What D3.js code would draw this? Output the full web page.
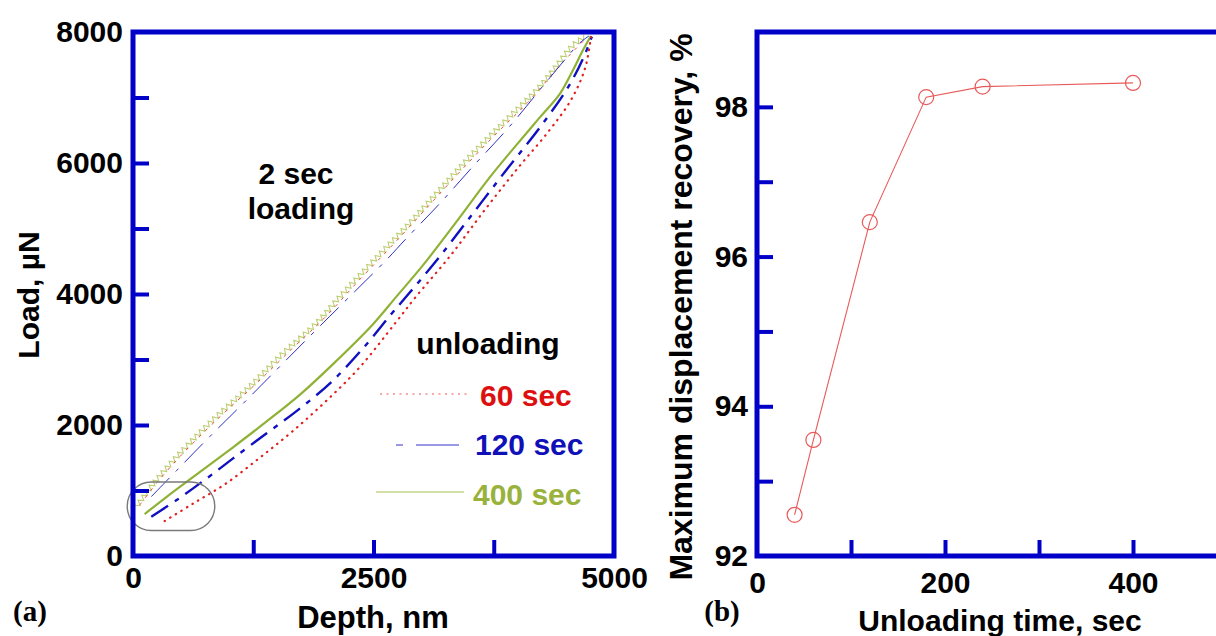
<!DOCTYPE html>
<html><head><meta charset="utf-8">
<script src="https://cdn.jsdelivr.net/npm/d3@7"></script>
<style>
body{margin:0;background:#fff}
svg{display:block}
text{font-family:"Liberation Sans",Arial,Helvetica,sans-serif;font-weight:bold}
</style>
</head><body>
<svg id="c" width="1216" height="636"></svg>
<script>
// ---------- Panel (a) data: load (µN) vs depth (nm) ----------
const load2sDepth = [35, 243, 520, 866, 1213, 1559, 1906, 2150, 2495, 2842, 3188, 3535, 3881, 4228, 4400, 4574, 4720];
const load2sLoad  = [753, 1160, 1619, 2128, 2586, 3095, 3553, 3958, 4500, 5029, 5589, 6149, 6658, 7167, 7480, 7800, 7950];

const load60Depth = [70, 300, 600, 950, 1300, 1650, 2000, 2350, 2700, 3050, 3400, 3750, 4100, 4450, 4720];
const load60Load  = [779, 1210, 1690, 2190, 2660, 3160, 3650, 4210, 4750, 5310, 5870, 6410, 6920, 7510, 7920];

const load120Depth = [190, 450, 797, 1180, 1559, 1950, 2300, 2634, 2842, 3188, 3535, 3916, 4332, 4643, 4740];
const load120Load  = [906, 1300, 1822, 2380, 2942, 3520, 4030, 4520, 4850, 5380, 5950, 6560, 7300, 7830, 7940];

const unl60Depth = [329, 624, 970, 1317, 1663, 2010, 2356, 2734, 2942, 3292, 3639, 3985, 4332, 4560, 4700, 4760];
const unl60Load  = [534, 800, 1110, 1500, 1910, 2370, 2880, 3570, 3960, 4571, 5250, 5894, 6505, 6980, 7450, 7920];

const unl120Depth = [190, 450, 762, 1040, 1386, 1733, 2079, 2426, 2683, 2870, 3188, 3535, 3881, 4228, 4520, 4680, 4770];
const unl120Load  = [600, 850, 1180, 1490, 1870, 2250, 2680, 3230, 3690, 4010, 4571, 5233, 5894, 6540, 7150, 7600, 7930];

const unl400Depth = [121, 347, 693, 1040, 1386, 1733, 2079, 2495, 2738, 3015, 3361, 3708, 4000, 4231, 4439, 4574, 4678, 4760];
const unl400Load  = [641, 900, 1280, 1660, 2050, 2460, 2930, 3540, 3960, 4440, 5100, 5780, 6300, 6700, 7060, 7420, 7725, 7940];

const depthTickMarks = [1250, 2500, 3750];
const depthTickLabels = [0, 2500, 5000];
const loadTickMarks = [1000, 2000, 3000, 4000, 5000, 6000, 7000];
const loadTickLabels = [0, 2000, 4000, 6000, 8000];

const legendNames = ["60 sec", "120 sec", "400 sec"];

// ---------- Panel (b) data ----------
const unloadTime = [40, 60, 120, 180, 240, 400];
const recovery   = [92.55, 93.55, 96.46, 98.13, 98.27, 98.32];
const timeTickMarks = [100, 200, 300, 400];
const timeTickLabels = [0, 200, 400];
const recTickMarks = [93, 94, 95, 96, 97, 98];
const recTickLabels = [92, 94, 96, 98];

// ---------- drawing ----------
const BLUE = "#0000c8";
const RED = "#e02020", RED_L = "#ee4a4a";
const NAVY = "#1010c0";
const GREEN = "#8fb236", ZIG = "#bccf72";
const FS = 30;

const svg = d3.select("#c");
svg.append("rect").attr("width",1216).attr("height",636).attr("fill","#fff");

const xA = d3.scaleLinear().domain([0,5000]).range([133,614]);
const yA = d3.scaleLinear().domain([0,8000]).range([556,32]);
const xB = d3.scaleLinear().domain([0,500]).range([757,1227]);
const yB = d3.scaleLinear().domain([92,99]).range([556,32]);

function styleAxis(g, fs){
  g.select(".domain").remove();
  g.attr("font-family",null).attr("font-size",null);
  g.selectAll(".tick line").attr("stroke",BLUE).attr("stroke-width",4);
  g.selectAll(".tick text").attr("fill","#000").style("font-size",fs+"px");
}

// ---- Panel (a) ----
const gA = svg.append("g");
const lineA = (xs, ys) => d3.line().x((d,i)=>xA(xs[i])).y((d,i)=>yA(ys[i])).curve(d3.curveCatmullRom.alpha(0.5))(xs);

// zigzag loading trace
const hidden = gA.append("path").attr("d", lineA(load2sDepth, load2sLoad)).attr("fill","none").attr("stroke","none");
(function(){
  const node = hidden.node(), L = node.getTotalLength(), step = 3.1, amp = 2.5;
  const pts = []; let i = 0, last = [1,0];
  for (let s = 0; s <= L; s += step, i++) {
    const p = node.getPointAtLength(s), q = node.getPointAtLength(Math.min(L, s + 0.8));
    let dx = q.x - p.x, dy = q.y - p.y, n = Math.hypot(dx, dy);
    if (n > 1e-6) last = [dx/n, dy/n];
    const o = (i % 2 ? amp : -amp);
    pts.push([p.x - last[1]*o, p.y + last[0]*o]);
  }
  gA.append("path").attr("d", d3.line()(pts)).attr("fill","none").attr("stroke",ZIG).attr("stroke-width",1.1);
})();

gA.append("path").attr("d", lineA(load60Depth, load60Load)).attr("fill","none")
  .attr("stroke",RED_L).attr("stroke-width",1).attr("stroke-dasharray","3,6");
gA.append("path").attr("d", lineA(load120Depth, load120Load)).attr("fill","none")
  .attr("stroke","#3030c8").attr("stroke-width",1).attr("stroke-dasharray","26,9,4,9");

gA.append("path").attr("d", lineA(unl400Depth, unl400Load)).attr("fill","none")
  .attr("stroke",GREEN).attr("stroke-width",2.2);
gA.append("path").attr("d", lineA(unl120Depth, unl120Load)).attr("fill","none")
  .attr("stroke",NAVY).attr("stroke-width",2.4).attr("stroke-dasharray","20,8,5,8");
gA.append("path").attr("d", lineA(unl60Depth, unl60Load)).attr("fill","none")
  .attr("stroke",RED).attr("stroke-width",2.2).attr("stroke-linecap","round").attr("stroke-dasharray","0.5,6");

// highlight ellipse
gA.append("rect").attr("x",xA(-60)).attr("y",yA(1130)).attr("width",xA(850)-xA(-60)).attr("height",yA(390)-yA(1130))
  .attr("rx",24).attr("ry",24).attr("fill","none").attr("stroke","#7a7a7a").attr("stroke-width",1.4);

// frame
gA.append("rect").attr("x",xA(0)).attr("y",yA(8000)).attr("width",xA(5000)-xA(0)).attr("height",yA(0)-yA(8000))
  .attr("fill","none").attr("stroke",BLUE).attr("stroke-width",5);

// axes
gA.append("g").attr("transform",`translate(${xA(0)},0)`)
  .call(d3.axisLeft(yA).tickValues(loadTickMarks).tickSize(-16).tickFormat(""))
  .call(g=>styleAxis(g,FS));
gA.append("g").attr("transform",`translate(${xA(0)},0)`)
  .call(d3.axisLeft(yA).tickValues(loadTickLabels).tickSize(0).tickPadding(10).tickFormat(d3.format("d")))
  .call(g=>styleAxis(g,FS));
gA.append("g").attr("transform",`translate(0,${yA(0)})`)
  .call(d3.axisBottom(xA).tickValues(depthTickMarks).tickSize(-16).tickFormat(""))
  .call(g=>styleAxis(g,FS));
gA.append("g").attr("transform",`translate(0,${yA(0)})`)
  .call(d3.axisBottom(xA).tickValues(depthTickLabels).tickSize(0).tickPadding(11).tickFormat(d3.format("d")))
  .call(g=>styleAxis(g,FS));

// labels
gA.append("text").attr("transform","translate(39,295) rotate(-90)").attr("text-anchor","middle")
  .style("font-size",FS+"px").text("Load, µN");
gA.append("text").attr("x",373).attr("y",628).attr("text-anchor","middle").style("font-size","31px").text("Depth, nm");
gA.append("text").attr("x",30).attr("y",621).attr("text-anchor","middle")
  .style("font-family","'Liberation Serif','Times New Roman',serif").style("font-size","29px").text("(a)");

gA.append("text").attr("x",296).attr("y",184).attr("text-anchor","middle").style("font-size",FS+"px").text("2 sec");
gA.append("text").attr("x",301).attr("y",219).attr("text-anchor","middle").style("font-size",FS+"px").text("loading");
gA.append("text").attr("x",488).attr("y",354).attr("text-anchor","middle").style("font-size",FS+"px").text("unloading");

// legend
const leg = [
  {name:legendNames[0], color:"#dd1010", x1:380, x2:468, y:394, tx:480, ty:406, dash:"2,4.5", sc:"#ee5555"},
  {name:legendNames[1], color:"#1010b8", x1:396, x2:459, y:445, tx:475, ty:455, dash:"7,13,43", sc:"#3535c8"},
  {name:legendNames[2], color:"#99b23c", x1:376, x2:464, y:492, tx:473, ty:505, dash:null, sc:"#a5bf55"}
];
leg.forEach(l=>{
  gA.append("line").attr("x1",l.x1).attr("x2",l.x2).attr("y1",l.y).attr("y2",l.y)
    .attr("stroke",l.sc).attr("stroke-width",1.1).attr("stroke-dasharray",l.dash);
  gA.append("text").attr("x",l.tx).attr("y",l.ty).attr("fill",l.color).style("font-size",FS+"px").text(l.name);
});

// ---- Panel (b) ----
const gB = svg.append("g");
gB.append("path").attr("d", d3.line().x((d,i)=>xB(unloadTime[i])).y((d,i)=>yB(recovery[i]))(unloadTime))
  .attr("fill","none").attr("stroke","#e85a5a").attr("stroke-width",1.1);
gB.selectAll("circle").data(unloadTime).join("circle")
  .attr("cx",(d)=>xB(d)).attr("cy",(d,i)=>yB(recovery[i])).attr("r",7.5)
  .attr("fill","none").attr("stroke","#e85a5a").attr("stroke-width",1.2);

gB.append("rect").attr("x",xB(0)).attr("y",yB(99)).attr("width",xB(500)-xB(0)).attr("height",yB(92)-yB(99))
  .attr("fill","none").attr("stroke",BLUE).attr("stroke-width",5);

gB.append("g").attr("transform",`translate(${xB(0)},0)`)
  .call(d3.axisLeft(yB).tickValues(recTickMarks).tickSize(-16).tickFormat(""))
  .call(g=>styleAxis(g,FS));
gB.append("g").attr("transform",`translate(${xB(0)},0)`)
  .call(d3.axisLeft(yB).tickValues(recTickLabels).tickSize(0).tickPadding(9).tickFormat(d3.format("d")))
  .call(g=>styleAxis(g,FS));
gB.append("g").attr("transform",`translate(0,${yB(92)})`)
  .call(d3.axisBottom(xB).tickValues(timeTickMarks).tickSize(-16).tickFormat(""))
  .call(g=>styleAxis(g,FS));
gB.append("g").attr("transform",`translate(0,${yB(92)})`)
  .call(d3.axisBottom(xB).tickValues(timeTickLabels).tickSize(0).tickPadding(16).tickFormat(d3.format("d")))
  .call(g=>styleAxis(g,FS));

gB.append("text").attr("transform","translate(692,307) rotate(-90)").attr("text-anchor","middle")
  .style("font-size","32px").text("Maximum displacement recovery, %");
gB.append("text").attr("x",1000).attr("y",631).attr("text-anchor","middle").style("font-size",FS+"px").text("Unloading time, sec");
gB.append("text").attr("x",722).attr("y",621).attr("text-anchor","middle")
  .style("font-family","'Liberation Serif','Times New Roman',serif").style("font-size","29px").text("(b)");
</script>
</body></html>
